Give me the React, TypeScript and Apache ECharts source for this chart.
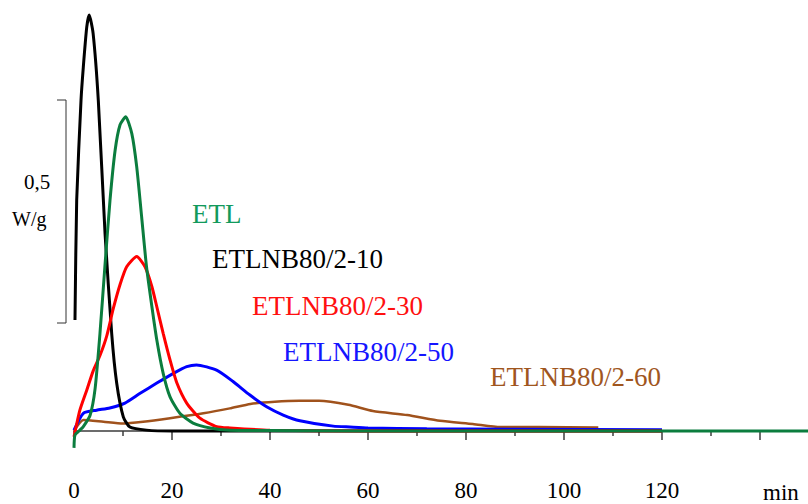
import React, { useEffect, useRef } from "react";
import * as echarts from "echarts";

// Time (min) and heat flow (W/g, relative to baseline) for each sample
const blackT = [0.2, 0.55, 1.43, 1.9, 2.6, 3.1, 3.9, 4.96, 6.33, 7.69, 8.71, 10.06, 11.4, 14.8, 20, 40, 60, 80, 100, 120];
const blackV = [0.25, 0.52, 0.745, 0.82, 0.91, 0.937, 0.896, 0.745, 0.446, 0.22, 0.108, 0.032, 0.009, 0.002, 0, 0, 0, 0, 0, 0];

const greenT = [0, 0.2, 1.2, 1.9, 3.27, 4.3, 5.3, 6.3, 7.35, 8.4, 9.4, 10.55, 11.8, 12.8, 13.8, 14.8, 15.9, 16.9, 18.2, 19.6, 21.6, 24.3, 27.8, 31.8, 40, 60, 90, 120, 150];
const greenV = [-0.038, -0.009, 0.002, 0.01, 0.035, 0.095, 0.22, 0.37, 0.52, 0.633, 0.69, 0.708, 0.67, 0.595, 0.483, 0.37, 0.28, 0.205, 0.13, 0.077, 0.04, 0.018, 0.007, 0.002, 0.001, 0, 0, 0, 0];

const redT = [0, 1.2, 2.6, 3.9, 5.3, 6.7, 8.0, 9.4, 10.75, 12.8, 14.5, 15.9, 16.9, 18.2, 19.6, 21, 23, 25.7, 29.1, 31.8, 40, 60, 90, 120];
const redV = [-0.013, 0.047, 0.092, 0.135, 0.17, 0.215, 0.275, 0.33, 0.37, 0.393, 0.37, 0.325, 0.28, 0.22, 0.16, 0.108, 0.063, 0.029, 0.01, 0.007, 0.002, 0, 0, 0];

const blueT = [0, 1.9, 4.6, 7.3, 10.4, 13.5, 16.9, 20.3, 23, 25, 29.1, 32.4, 35.9, 39.4, 42.7, 46.1, 52.9, 56.3, 60, 72, 90, 120];
const blueV = [0.002, 0.04, 0.047, 0.052, 0.063, 0.085, 0.108, 0.13, 0.145, 0.149, 0.137, 0.112, 0.081, 0.054, 0.036, 0.023, 0.011, 0.009, 0.007, 0.005, 0.004, 0.003];

const brownT = [0, 1.9, 6, 10, 14.1, 19.6, 26.4, 31.8, 36, 41, 46, 50, 56, 61, 68, 74.7, 81.4, 87, 95, 107];
const brownV = [0, 0.025, 0.021, 0.017, 0.021, 0.029, 0.04, 0.051, 0.061, 0.066, 0.068, 0.068, 0.059, 0.045, 0.036, 0.023, 0.016, 0.009, 0.009, 0.008];

const seriesNames = ["ETLNB80/2-60", "ETLNB80/2-50", "ETLNB80/2-10", "ETLNB80/2-30", "ETL"];
const xTickLabels = ["0", "20", "40", "60", "80", "100", "120"];
const scaleLabel = "0,5";
const unitLabel = "W/g";
const xUnit = "min";

const pairs = (t: number[], v: number[]) => t.map((x, i) => [x, v[i]]);

export default function App() {
  const ref = useRef<HTMLDivElement>(null);
  useEffect(() => {
    document.body.style.margin = "0";
    if (!ref.current) return;
    const chart = echarts.init(ref.current, null, { renderer: "svg" });
    const fam = "Liberation Serif";
    const txt = (x: number, y: number, text: string, size: number, fill: string) => ({
      type: "text",
      x,
      y,
      style: { text, fontFamily: fam, fontSize: size, fill, verticalAlign: "middle" },
    });
    const mk = (name: string, data: number[][], color: string, width: number) => ({
      type: "line",
      name,
      data,
      showSymbol: false,
      symbol: "none",
      smooth: 0.2,
      lineStyle: { color, width },
      itemStyle: { color },
    });
    chart.setOption({
      animation: false,
      backgroundColor: "#fff",
      grid: { left: 74, top: 0, width: 784, height: 464, outerBoundsMode: "none", containLabel: false },
      xAxis: {
        type: "value",
        min: 0,
        max: 160,
        interval: 20,
        splitLine: { show: false },
        axisLine: { show: true, lineStyle: { color: "#3c3c3c", width: 1.5 } },
        axisTick: { show: true, length: 9, lineStyle: { color: "#3c3c3c", width: 1.5 } },
        minorTick: { show: true, splitNumber: 2, length: 5, lineStyle: { color: "#3c3c3c", width: 1.5 } },
        axisLabel: {
          margin: 15,
          fontFamily: fam,
          fontSize: 23,
          color: "#000",
          showMaxLabel: false,
          formatter: (val: number) => {
            const s = String(val);
            return xTickLabels.includes(s) ? s : "";
          },
        },
      },
      yAxis: { type: "value", min: -0.0743, max: 0.971, show: false, splitLine: { show: false } },
      series: [
        mk(seriesNames[0], pairs(brownT, brownV), "#a0521c", 2.5),
        mk(seriesNames[1], pairs(blueT, blueV), "#0000ff", 3),
        mk(seriesNames[2], pairs(blackT, blackV), "#000000", 3),
        mk(seriesNames[3], pairs(redT, redV), "#ff0000", 3),
        mk(seriesNames[4], pairs(greenT, greenV), "#0b7d3e", 3),
      ],
      graphic: [
        { type: "line", shape: { x1: 57, y1: 100, x2: 66, y2: 100 }, style: { stroke: "#333", lineWidth: 1 } },
        { type: "line", shape: { x1: 66, y1: 100, x2: 66, y2: 323 }, style: { stroke: "#333", lineWidth: 1 } },
        { type: "line", shape: { x1: 57, y1: 323, x2: 66, y2: 323 }, style: { stroke: "#333", lineWidth: 1 } },
        txt(24, 182, scaleLabel, 21, "#000"),
        txt(12, 219, unitLabel, 20, "#000"),
        txt(763, 492, xUnit, 23, "#000"),
        txt(192, 214, seriesNames[4], 27, "#129a5c"),
        txt(212, 259, seriesNames[2], 27, "#000"),
        txt(252, 306, seriesNames[3], 27, "#ff1010"),
        txt(283, 352, seriesNames[1], 27, "#1515ff"),
        txt(490, 377, seriesNames[0], 27, "#a0561e"),
      ],
    });
    return () => chart.dispose();
  }, []);
  return <div ref={ref} style={{ width: 808, height: 504 }} />;
}
